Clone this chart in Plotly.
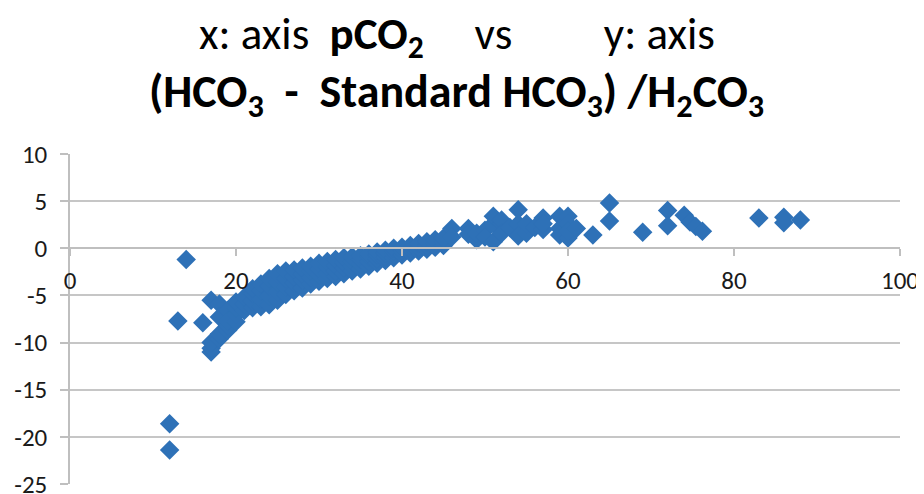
import plotly.graph_objects as go

# pCO2 (x) values and (HCO3 - Standard HCO3)/H2CO3 (y) values
pco2 = [
    12, 12, 13, 14, 16, 17, 17, 18, 18, 19,
    17, 17, 18, 18, 19, 19, 19,
    20, 20, 20, 20, 21, 21, 21,
    22, 22, 22, 22, 23, 23, 23, 23,
    24, 24, 24, 24, 25, 25, 25, 25,
    26, 26, 26, 26, 27, 27, 27, 27,
    28, 28, 28, 28, 29, 29, 29, 29,
    30, 30, 30, 30, 31, 31, 31, 31,
    32, 32, 32, 32, 33, 33, 33, 33,
    34, 34, 34, 34, 35, 35, 35, 35,
    36, 36, 36, 36, 37, 37, 37, 37,
    38, 38, 38, 38, 39, 39, 39, 39,
    40, 40, 40, 41, 41, 41, 42, 42, 42,
    43, 43, 43, 44, 44, 44, 45, 45, 45,
    46, 46, 48, 48, 49, 49, 50, 50, 51, 51, 51,
    52, 52, 52, 53, 54, 54, 54, 55, 55, 56,
    57, 57, 57, 59, 59, 59, 60, 60, 60, 60, 61, 63,
    65, 65, 69, 72, 72, 74, 74.7, 75.4, 76.2,
    83, 86, 86, 88,
]
value = [
    -18.6, -21.4, -7.7, -1.2, -7.9, -5.5, -11.0, -5.9, -7.3, -6.6,
    -10.6, -10.0, -9.6, -9.1, -8.7, -8.2, -7.7,
    -7.8, -7.0, -6.3, -5.7, -6.6, -5.9, -5.2,
    -6.3, -5.6, -4.8, -4.3, -6.2, -5.4, -4.5, -3.8,
    -6.0, -5.1, -4.0, -3.2, -5.5, -4.6, -3.6, -2.7,
    -4.9, -4.1, -3.2, -2.4, -4.5, -3.7, -3.0, -2.3,
    -4.2, -3.4, -2.7, -2.1, -3.8, -3.1, -2.4, -1.9,
    -3.5, -2.8, -2.2, -1.6, -3.2, -2.6, -2.0, -1.4,
    -3.0, -2.4, -1.8, -1.2, -2.7, -2.1, -1.5, -1.0,
    -2.4, -1.9, -1.4, -0.9, -2.2, -1.7, -1.2, -0.8,
    -1.9, -1.4, -0.9, -0.6, -1.6, -1.1, -0.7, -0.4,
    -1.3, -0.9, -0.5, -0.2, -1.0, -0.6, -0.3, 0.0,
    -0.7, -0.3, 0.1, -0.5, -0.1, 0.3, -0.3, 0.1, 0.5,
    -0.1, 0.3, 0.7, 0.1, 0.5, 0.9, 0.3, 0.7, 1.1,
    2.1, 1.2, 2.1, 1.5, 0.9, 1.6, 1.9, 1.2, 0.7, 2.6, 3.4,
    2.6, 3.0, 1.6, 2.2, 4.1, 2.6, 1.3, 1.6, 2.6, 2.2,
    3.2, 2.0, 2.6, 3.4, 2.1, 1.4, 3.4, 2.6, 1.1, 1.8, 2.1, 1.4,
    4.8, 2.9, 1.7, 4.0, 2.4, 3.5, 2.8, 2.3, 1.8,
    3.2, 3.3, 2.7, 3.0,
]

x_ticks = [0, 20, 40, 60, 80, 100]
y_ticks = [10, 5, 0, -5, -10, -15, -20, -25]

FONT = "Carlito, 'Liberation Sans Narrow', 'Open Sans', sans-serif"
NB = "\u00a0"

fig = go.Figure()
fig.add_trace(go.Scatter(
    x=pco2, y=value, mode="markers",
    marker=dict(symbol="diamond", size=15, color="#2E71B7", line=dict(width=0)),
    hoverinfo="x+y", showlegend=False,
))

line1 = "x: axis" + NB * 2 + "<b>pCO<sub>2</sub></b>" + NB * 5 + "vs" + NB * 9 + "y: axis"
line2 = "<b>(HCO<sub>3</sub>" + NB * 2 + "-" + NB * 2 + "Standard HCO<sub>3</sub>) /H<sub>2</sub>CO<sub>3</sub></b>"

fig.add_annotation(text=line1, xref="paper", yref="paper", x=0.466, y=1.358,
                   xanchor="center", yanchor="middle", showarrow=False,
                   font=dict(family=FONT, size=45, color="#000000"))
fig.add_annotation(text=line2, xref="paper", yref="paper", x=0.466, y=1.180,
                   xanchor="center", yanchor="middle", showarrow=False,
                   font=dict(family=FONT, size=46, color="#000000"))

fig.update_layout(
    template="none",
    width=924, height=494,
    margin=dict(l=62, r=32, t=146, b=18, autoexpand=False),
    paper_bgcolor="white", plot_bgcolor="white",
    font=dict(family=FONT, size=25, color="#1a1a1a"),
    xaxis=dict(
        range=[0, 100], tickvals=x_ticks, ticktext=[str(v) for v in x_ticks],
        showgrid=False, zeroline=False, automargin=False,
        showline=True, linecolor="#bfbfbf", linewidth=1.5,
        ticks="outside", ticklen=7, tickcolor="#bfbfbf", tickwidth=1.5,
        anchor="free", position=25 / 35, ticklabelstandoff=3,
        ticklabeloverflow="allow",
    ),
    yaxis=dict(
        range=[-25, 10], tickvals=y_ticks, ticktext=[str(v) for v in y_ticks],
        showgrid=True, gridcolor="#c6c6c6", gridwidth=1.5, zeroline=False,
        automargin=False,
        showline=True, linecolor="#bfbfbf", linewidth=1.5,
        ticks="outside", ticklen=8, tickcolor="#bfbfbf", tickwidth=1.5,
        ticklabelstandoff=8, ticklabeloverflow="allow",
    ),
)

fig.write_html("out.html")
